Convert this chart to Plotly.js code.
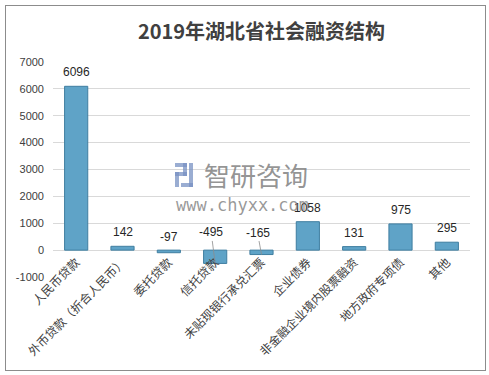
<!DOCTYPE html>
<html><head><meta charset="utf-8">
<script src="https://cdn.plot.ly/plotly-3.0.1.min.js"></script>
<style>
html,body{margin:0;padding:0;background:#fff;}
#wrap{position:relative;width:489px;height:375px;}
#frame{position:absolute;left:5px;top:5px;width:479px;height:364px;border:1px solid #8c8c8c;pointer-events:none;}
#chart{position:absolute;left:0;top:0;width:489px;height:375px;}
</style></head>
<body><div id="wrap"><div id="chart"></div><div id="frame"></div></div>
<script>
const categories = ['人民币贷款','外币贷款（折合人民币）','委托贷款','信托贷款','未贴现银行承兑汇票','企业债券','非金融企业境内股票融资','地方政府专项债','其他'];
const values = [6096,142,-97,-495,-165,1058,131,975,295];
const yTicks = [-1000,0,1000,2000,3000,4000,5000,6000,7000];

const cjk = '"Noto Sans CJK SC", "Noto Sans", sans-serif';
const annotations = categories.map((c,i)=>{
  const v = values[i];
  const base = {x:c, xref:'x', yref:'y', text:String(v), font:{family:'"Liberation Sans", Arial, sans-serif', size:12, color:'#262626'}};
  if (v === -495) return Object.assign(base,{y:v, showarrow:true, arrowhead:0, arrowwidth:0.8, arrowcolor:'#8c8c8c', ax:-4, ay:-31, standoff:0});
  if (v === -165) return Object.assign(base,{y:v, showarrow:true, arrowhead:0, arrowwidth:0.8, arrowcolor:'#8c8c8c', ax:-4, ay:-22, standoff:0});
  return Object.assign(base,{y:Math.max(v,0), showarrow:false, yanchor:'bottom', yshift:v<0?4:5});
});
// watermark
annotations.push({xref:'paper', yref:'paper', x:0.486, y:0.475, text:'智研咨询', showarrow:false,
  font:{family:cjk, size:26, color:'rgba(120,120,120,0.8)'}});
annotations.push({xref:'paper', yref:'paper', x:0.455, y:0.335, text:'www.chyxx.com', showarrow:false,
  font:{family:'"DejaVu Sans Mono", monospace', size:17, color:'rgba(120,120,120,0.75)'}});

const logo = [
  {x0:175,x1:187,y0:163,y1:167},{x0:183,x1:187,y0:163,y1:176},{x0:175,x1:187,y0:172,y1:176},
  {x0:175,x1:179,y0:172,y1:187},{x0:189,x1:193,y0:163,y1:187},{x0:181,x1:193,y0:183,y1:187}
].map(r=>({type:'rect', xref:'paper', yref:'paper', layer:'above', line:{width:0},
  fillcolor:'rgba(120,145,195,0.75)',
  x0:(r.x0-53)/417, x1:(r.x1-53)/417, y0:(277-r.y1)/215, y1:(277-r.y0)/215}));

Plotly.newPlot('chart', [{
  type:'bar', x:categories, y:values, width:0.5,
  marker:{color:'#5FA3C7', line:{color:'#3F7EA0', width:1}},
  hoverinfo:'none'
}], {
  width:489, height:375,
  margin:{l:53, r:19, t:62, b:98},
  paper_bgcolor:'#fff', plot_bgcolor:'#fff',
  title:{text:'<b>2019年湖北省社会融资结构</b>', x:0.5, xref:'paper', y:0.915, yanchor:'middle',
    font:{family:cjk, size:20, color:'#404040'}},
  xaxis:{anchor:'free', position:27/215, tickangle:-45, tickfont:{family:cjk, size:12, color:'#404040'},
    showgrid:false, showline:false, ticks:'', ticklabelstandoff:2, automargin:false},
  yaxis:{domain:[0,1], range:[-1000,7000], tickvals:yTicks, ticktext:yTicks.map(String), gridcolor:'#d9d9d9', gridwidth:1,
    zeroline:true, zerolinecolor:'#d9d9d9', zerolinewidth:1, showline:false,
    tickfont:{family:'"Liberation Sans", Arial, sans-serif', size:11, color:'#404040'}, ticklabelstandoff:8, automargin:false},
  showlegend:false,
  shapes:logo,
  annotations:annotations
}, {staticPlot:true});
</script></body></html>
